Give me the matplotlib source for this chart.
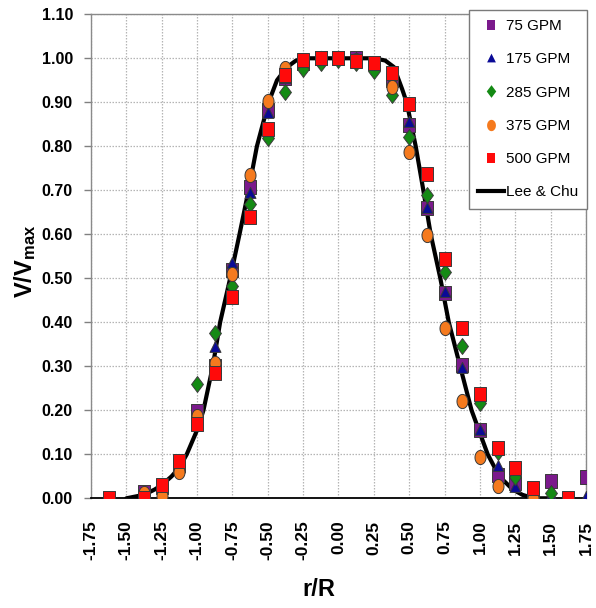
import numpy as np
import matplotlib
matplotlib.use("Agg")
import matplotlib.pyplot as plt
from matplotlib.path import Path
from matplotlib.lines import Line2D

plt.rcParams['font.family'] = ['Liberation Sans', 'DejaVu Sans']
plt.rcParams['mathtext.fontset'] = 'custom'
plt.rcParams['mathtext.rm'] = 'Liberation Sans'
plt.rcParams['mathtext.bf'] = 'Liberation Sans:bold'

nan = np.nan

# radial positions r/R of the measurements
r_pos = [-1.625, -1.5, -1.375, -1.25, -1.125, -1.0, -0.875, -0.75, -0.625, -0.5,
         -0.375, -0.25, -0.125, 0.0, 0.125, 0.25, 0.375, 0.5, 0.625, 0.75,
         0.875, 1.0, 1.125, 1.25, 1.375, 1.5, 1.625, 1.75]

v_75 = [nan, nan, 0.015, 0.025, 0.075, 0.198, 0.30, 0.52, 0.708, 0.882,
        0.955, 0.99, 1.0, 1.0, 1.0, 0.99, 0.95, 0.848, 0.659, 0.466,
        0.303, 0.155, 0.053, 0.034, 0.01, 0.04, nan, 0.048]
v_175 = [nan, nan, 0.005, 0.025, 0.07, 0.19, 0.345, 0.535, 0.693, 0.875,
         0.955, 0.99, 1.0, 1.0, 1.0, 0.99, 0.95, 0.855, 0.66, 0.47,
         0.297, 0.155, 0.073, 0.026, 0.005, 0.005, nan, 0.004]
v_285 = [nan, nan, 0.005, 0.02, 0.075, 0.259, 0.375, 0.483, 0.668, 0.818,
         0.924, 0.975, 0.99, 0.995, 0.99, 0.97, 0.917, 0.822, 0.689, 0.515,
         0.346, 0.217, 0.105, 0.049, 0.005, 0.011, nan, nan]
v_375 = [nan, nan, 0.012, 0.005, 0.06, 0.187, 0.307, 0.51, 0.735, 0.904,
         0.977, 0.995, 1.0, 1.0, 0.995, 0.99, 0.935, 0.786, 0.598, 0.386,
         0.221, 0.095, 0.029, nan, 0.0, nan, nan, nan]
v_500 = [0.0, nan, 0.0, 0.03, 0.085, 0.17, 0.285, 0.458, 0.64, 0.839,
         0.962, 0.996, 1.0, 1.0, 0.994, 0.99, 0.967, 0.896, 0.737, 0.544,
         0.386, 0.237, 0.115, 0.068, 0.023, nan, 0.0, nan]

# Lee & Chu profile
lc_r = [-1.5, -1.375, -1.3, -1.25, -1.18, -1.125, -1.073, -1.0, -0.955, -0.889,
        -0.837, -0.766, -0.70, -0.636, -0.577, -0.494, -0.435, -0.364, -0.30,
        -0.222, 0.0, 0.25, 0.33, 0.392, 0.45, 0.482, 0.546, 0.60, 0.652, 0.72,
        0.78, 0.86, 0.941, 1.055, 1.137, 1.232, 1.30, 1.38, 1.5]
lc_v = [0.0, 0.008, 0.02, 0.03, 0.05, 0.07, 0.10, 0.155, 0.20, 0.30,
        0.40, 0.50, 0.60, 0.70, 0.80, 0.90, 0.95, 0.98, 0.995,
        1.0, 1.0, 1.0, 0.995, 0.98, 0.93, 0.90, 0.80, 0.70, 0.60, 0.50,
        0.40, 0.30, 0.20, 0.10, 0.05, 0.02, 0.008, 0.0, 0.0]

labels = ['75 GPM', '175 GPM', '285 GPM', '375 GPM', '500 GPM']
colors = ['#7B1A8C', '#0A0A96', '#148A14', '#F57A1E', '#FF0A0A']


def scaled_path(verts, sx):
    v = np.array(verts, dtype=float)
    v[:, 0] *= sx
    codes = [Path.MOVETO] + [Path.LINETO] * (len(v) - 2) + [Path.CLOSEPOLY]
    return Path(v, codes)


t = np.linspace(0, 2 * np.pi, 41)
ellipse = scaled_path(np.c_[np.cos(t), np.sin(t)], 0.78)
square = scaled_path([[-1, -1], [1, -1], [1, 1], [-1, 1], [-1, -1]], 0.85)
diamond = scaled_path([[0, -1], [1, 0], [0, 1], [-1, 0], [0, -1]], 0.75)
triangle = scaled_path([[-1, -0.8], [1, -0.8], [0, 1], [-1, -0.8]], 0.9)

markers = [square, triangle, diamond, ellipse, square]
msizes = [9.4, 8.8, 11.4, 10.2, 9.4]

fig = plt.figure(figsize=(5.96, 6.08), dpi=100)
ax = fig.add_axes([0.1527, 0.1804, 0.8305, 0.7961])

series = [v_75, v_175, v_285, v_375, v_500]
for vals, lab, col, mk, ms in zip(series, labels, colors, markers, msizes):
    ax.plot(r_pos, vals, linestyle='none', marker=mk, markersize=ms,
            markerfacecolor=col, markeredgecolor='#3a3a3a', markeredgewidth=0.7,
            label=lab, zorder=3)

ax.plot(lc_r, lc_v, color='black', linewidth=3.0, solid_capstyle='round',
        solid_joinstyle='round', zorder=2.5, label='Lee & Chu')

ax.set_xlim(-1.75, 1.75)
ax.set_ylim(0, 1.10)
xt = np.arange(-1.75, 1.751, 0.25)
yt = np.arange(0, 1.101, 0.10)
ax.set_xticks(xt)
ax.set_yticks(yt)
ax.set_xticklabels([f'{v:.2f}' for v in xt], rotation=90,
                   fontweight='bold', fontsize=12.5)
ax.set_yticklabels([f'{v:.2f}' for v in yt], fontweight='bold', fontsize=11.5)
ax.tick_params(axis='x', length=0, pad=16)
ax.tick_params(axis='y', length=5, width=1, color='#808080', pad=8, direction='out')

ax.grid(True, color='#b5b5b5', linestyle=(0, (1.2, 1.2)), linewidth=0.9, zorder=0)
ax.set_axisbelow(True)
for s in ['left', 'top', 'right']:
    ax.spines[s].set_color('#8a8a8a')
    ax.spines[s].set_linewidth(1.0)
ax.spines['bottom'].set_color('black')
ax.spines['bottom'].set_linewidth(1.3)

ax.set_xlabel('r/R', fontsize=17, fontweight='bold')
ax.xaxis.set_label_coords(0.46, -0.165)
ax.set_ylabel(r'$\mathbf{V/V_{max}}$', fontsize=17)
ax.yaxis.set_label_coords(-0.108, 0.49)

handles = [Line2D([], [], linestyle='none', marker=mk, markersize=ms * 0.8,
                  markerfacecolor=col, markeredgewidth=0)
           for col, mk, ms in zip(colors, markers, msizes)]
handles.append(Line2D([], [], color='black', linewidth=3.0))
leg = ax.legend(handles, labels + ['Lee & Chu'], loc='upper right',
                bbox_to_anchor=(587 / 596, 1 - 10 / 608),
                bbox_transform=fig.transFigure, borderaxespad=0,
                fontsize=11, fancybox=False, framealpha=1, edgecolor='#7a7a7a',
                handlelength=1.7, handletextpad=0.1, labelspacing=1.26,
                borderpad=0.6)
leg.get_frame().set_linewidth(1.0)

fig.savefig('out.png', dpi=100)
